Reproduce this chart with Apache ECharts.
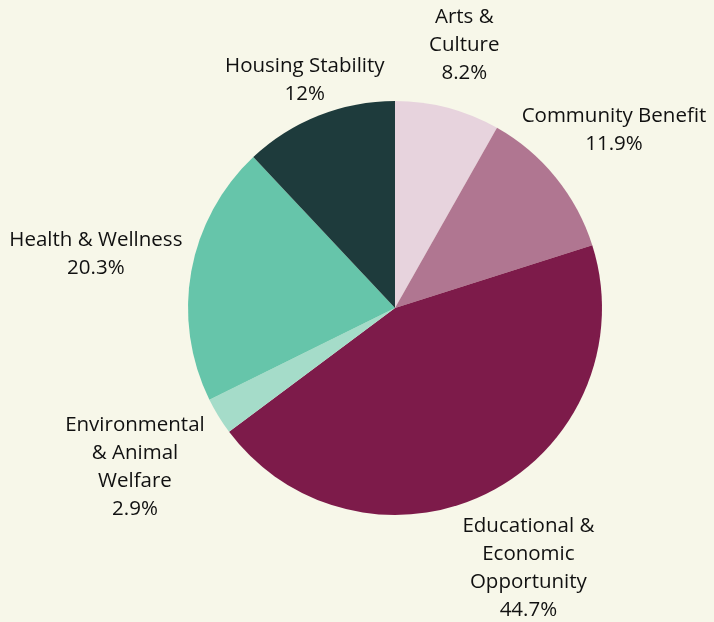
<!DOCTYPE html>
<html>
<head>
<meta charset="utf-8">
<script src="https://cdn.jsdelivr.net/npm/echarts@6/dist/echarts.min.js"></script>
<style>
html,body{margin:0;padding:0;background:#f7f7e9;}
#chart{width:714px;height:622px;}
</style>
</head>
<body>
<div id="chart"></div>
<script>
const categories = [
  "Arts &\nCulture",
  "Community Benefit",
  "Educational &\nEconomic\nOpportunity",
  "Environmental\n& Animal\nWelfare",
  "Health & Wellness",
  "Housing Stability"
];
const values = [8.2, 11.9, 44.7, 2.9, 20.3, 12];
const colors = ["#e7d3dd", "#b07691", "#7d1b4a", "#a5dcc9", "#66c5aa", "#1e3b3c"];
const labelDist = [272, 282, 292, 305, 304, 245];

const CX = 395, CY = 308, R = 207;
const total = values.reduce((a, b) => a + b, 0);
const midAngles = [];
let acc = 0;
values.forEach(v => { midAngles.push((acc + v / 2) / total * 2 * Math.PI); acc += v; });

const chart = echarts.init(document.getElementById('chart'));
chart.setOption({
  backgroundColor: '#f7f7e9',
  animation: false,
  series: [{
    type: 'pie',
    center: [CX, CY],
    radius: [0, R],
    startAngle: 90,
    clockwise: true,
    avoidLabelOverlap: false,
    data: categories.map((c, i) => ({ name: c, value: values[i], itemStyle: { color: colors[i] } })),
    itemStyle: { borderWidth: 0 },
    label: {
      show: true,
      position: 'outside',
      formatter: p => p.name + '\n' + p.value + '%',
      fontFamily: 'Open Sans',
      fontSize: 20.5,
      lineHeight: 28,
      color: '#111111',
      align: 'center'
    },
    labelLine: { show: false },
    labelLayout: function (params) {
      const i = params.dataIndex;
      const a = midAngles[i];
      const d = labelDist[i];
      return {
        x: CX + Math.sin(a) * d,
        y: CY - Math.cos(a) * d,
        align: 'center',
        verticalAlign: 'middle'
      };
    }
  }]
});
</script>
</body>
</html>
